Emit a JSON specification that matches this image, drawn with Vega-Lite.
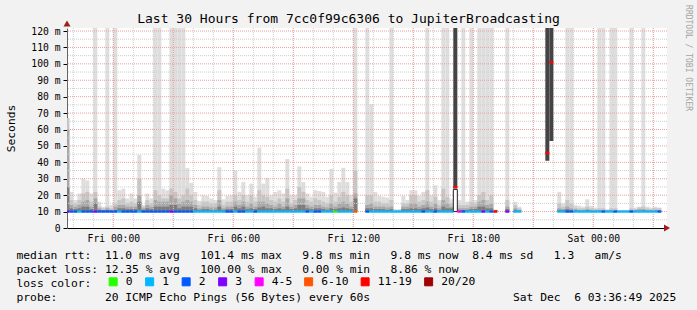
{
  "$schema": "https://vega.github.io/schema/vega-lite/v6.json",
  "width": 600,
  "height": 200,
  "autosize": {"type": "none"},
  "padding": {"left": 67, "top": 28, "right": 30, "bottom": 82},
  "background": "#f2f2f2",
  "title": {
    "text": "Last 30 Hours from 7cc0f99c6306 to JupiterBroadcasting",
    "font": "DejaVu Sans Mono",
    "fontSize": 13,
    "fontWeight": "normal",
    "color": "#000000",
    "anchor": "middle",
    "frame": "group",
    "dx": -18.5,
    "dy": 25,
    "offset": 4
  },
  "datasets": {
    "hours": [
      {"h": "2025-12-04T22:00"}, {"h": "2025-12-04T23:00"},
      {"h": "2025-12-05T00:00"}, {"h": "2025-12-05T01:00"}, {"h": "2025-12-05T02:00"}, {"h": "2025-12-05T03:00"},
      {"h": "2025-12-05T04:00"}, {"h": "2025-12-05T05:00"}, {"h": "2025-12-05T06:00"}, {"h": "2025-12-05T07:00"},
      {"h": "2025-12-05T08:00"}, {"h": "2025-12-05T09:00"}, {"h": "2025-12-05T10:00"}, {"h": "2025-12-05T11:00"},
      {"h": "2025-12-05T12:00"}, {"h": "2025-12-05T13:00"}, {"h": "2025-12-05T14:00"}, {"h": "2025-12-05T15:00"},
      {"h": "2025-12-05T16:00"}, {"h": "2025-12-05T17:00"}, {"h": "2025-12-05T18:00"}, {"h": "2025-12-05T19:00"},
      {"h": "2025-12-05T20:00"}, {"h": "2025-12-05T21:00"}, {"h": "2025-12-05T22:00"}, {"h": "2025-12-05T23:00"},
      {"h": "2025-12-06T00:00"}, {"h": "2025-12-06T01:00"}, {"h": "2025-12-06T02:00"}, {"h": "2025-12-06T03:00"}
    ],
    "hours3": [
      {"h": "2025-12-05T00:00"}, {"h": "2025-12-05T03:00"}, {"h": "2025-12-05T06:00"}, {"h": "2025-12-05T09:00"},
      {"h": "2025-12-05T12:00"}, {"h": "2025-12-05T15:00"}, {"h": "2025-12-05T18:00"}, {"h": "2025-12-05T21:00"},
      {"h": "2025-12-06T00:00"}, {"h": "2025-12-06T03:00"}
    ],
    "m5": [{"v": 5}, {"v": 15}, {"v": 25}, {"v": 35}, {"v": 45}, {"v": 55}, {"v": 65}, {"v": 75}, {"v": 85}, {"v": 95}, {"v": 105}, {"v": 115}],
    "m10": [{"v": 10}, {"v": 20}, {"v": 30}, {"v": 40}, {"v": 50}, {"v": 60}, {"v": 70}, {"v": 80}, {"v": 90}, {"v": 100}, {"v": 110}, {"v": 120}],
    "smoke": [
      {"t": "2025-12-04T21:36", "e": "2025-12-04T21:48", "l": "3", "md": 10, "mx": 67, "a": 67, "b": 60, "c": 25},
      {"t": "2025-12-04T21:48", "e": "2025-12-04T22:00", "l": "2", "md": 10, "mx": 22, "a": 17, "b": 14, "c": 12},
      {"t": "2025-12-04T22:00", "e": "2025-12-04T22:12", "l": "2", "md": 10, "mx": 17, "a": 15, "b": 13, "c": 11.5},
      {"t": "2025-12-04T22:12", "e": "2025-12-04T22:24", "l": "1", "md": 10, "mx": 21, "a": 17, "b": 14, "c": 12},
      {"t": "2025-12-04T22:24", "e": "2025-12-04T22:36", "l": "2", "md": 10, "mx": 30, "a": 21, "b": 16, "c": 13},
      {"t": "2025-12-04T22:36", "e": "2025-12-04T22:48", "l": "2", "md": 10, "mx": 29, "a": 22, "b": 17, "c": 13},
      {"t": "2025-12-04T22:48", "e": "2025-12-04T23:00", "l": "2", "md": 10, "mx": 21, "a": 16, "b": 13, "c": 11.5},
      {"t": "2025-12-04T23:00", "e": "2025-12-04T23:12", "l": "3", "md": 10, "mx": 125, "a": 22, "b": 18, "c": 15},
      {"t": "2025-12-04T23:12", "e": "2025-12-04T23:24", "l": "2", "md": 10, "mx": 16, "a": 13, "b": 12, "c": 11},
      {"t": "2025-12-04T23:24", "e": "2025-12-04T23:36", "l": "2", "md": 10, "mx": 13, "a": 12, "b": 11, "c": 10.8},
      {"t": "2025-12-04T23:36", "e": "2025-12-04T23:48", "l": "2", "md": 10, "mx": 125, "a": 13, "b": 12, "c": 11},
      {"t": "2025-12-04T23:48", "e": "2025-12-05T00:00", "l": "2", "md": 10, "mx": 14, "a": 12, "b": 11, "c": 10.8},
      {"t": "2025-12-05T00:00", "e": "2025-12-05T00:12", "l": "2", "md": 10, "mx": 125, "a": 15, "b": 13, "c": 11},
      {"t": "2025-12-05T00:12", "e": "2025-12-05T00:24", "l": "1", "md": 10, "mx": 23, "a": 17, "b": 14, "c": 12},
      {"t": "2025-12-05T00:24", "e": "2025-12-05T00:36", "l": "2", "md": 10, "mx": 24, "a": 18, "b": 14, "c": 12},
      {"t": "2025-12-05T00:36", "e": "2025-12-05T00:48", "l": "2", "md": 10, "mx": 18, "a": 15, "b": 13, "c": 11.5},
      {"t": "2025-12-05T00:48", "e": "2025-12-05T01:00", "l": "2", "md": 10, "mx": 21, "a": 16, "b": 13, "c": 11.5},
      {"t": "2025-12-05T01:00", "e": "2025-12-05T01:12", "l": "2", "md": 10, "mx": 18, "a": 15, "b": 13, "c": 11.5},
      {"t": "2025-12-05T01:12", "e": "2025-12-05T01:24", "l": "1", "md": 10, "mx": 44.5, "a": 30, "b": 20, "c": 16},
      {"t": "2025-12-05T01:24", "e": "2025-12-05T01:36", "l": "2", "md": 10, "mx": 14, "a": 13, "b": 12, "c": 11},
      {"t": "2025-12-05T01:36", "e": "2025-12-05T01:48", "l": "2", "md": 10, "mx": 21, "a": 17, "b": 14, "c": 12},
      {"t": "2025-12-05T01:48", "e": "2025-12-05T02:00", "l": "2", "md": 10, "mx": 18, "a": 15, "b": 13, "c": 11.5},
      {"t": "2025-12-05T02:00", "e": "2025-12-05T02:12", "l": "2", "md": 10, "mx": 125, "a": 23, "b": 17, "c": 13},
      {"t": "2025-12-05T02:12", "e": "2025-12-05T02:24", "l": "2", "md": 10, "mx": 125, "a": 20, "b": 16, "c": 13},
      {"t": "2025-12-05T02:24", "e": "2025-12-05T02:36", "l": "2", "md": 10, "mx": 24, "a": 18, "b": 16, "c": 13},
      {"t": "2025-12-05T02:36", "e": "2025-12-05T02:48", "l": "2", "md": 10, "mx": 23, "a": 18, "b": 16, "c": 13},
      {"t": "2025-12-05T02:48", "e": "2025-12-05T03:00", "l": "3", "md": 10, "mx": 125, "a": 24, "b": 20, "c": 14},
      {"t": "2025-12-05T03:00", "e": "2025-12-05T03:12", "l": "2", "md": 10, "mx": 125, "a": 22, "b": 18, "c": 14},
      {"t": "2025-12-05T03:12", "e": "2025-12-05T03:24", "l": "2", "md": 10, "mx": 125, "a": 18, "b": 15, "c": 12},
      {"t": "2025-12-05T03:24", "e": "2025-12-05T03:36", "l": "2", "md": 10, "mx": 125, "a": 20, "b": 16, "c": 13},
      {"t": "2025-12-05T03:36", "e": "2025-12-05T03:48", "l": "2", "md": 10, "mx": 36.5, "a": 24, "b": 17, "c": 13},
      {"t": "2025-12-05T03:48", "e": "2025-12-05T04:00", "l": "2", "md": 10, "mx": 27.5, "a": 20, "b": 16, "c": 13},
      {"t": "2025-12-05T04:00", "e": "2025-12-05T04:12", "l": "1", "md": 10, "mx": 22, "a": 17, "b": 14, "c": 12},
      {"t": "2025-12-05T04:12", "e": "2025-12-05T04:24", "l": "1", "md": 10, "mx": 16.5, "a": 14, "b": 12, "c": 11},
      {"t": "2025-12-05T04:24", "e": "2025-12-05T04:36", "l": "1", "md": 10, "mx": 20, "a": 16, "b": 13, "c": 11.5},
      {"t": "2025-12-05T04:36", "e": "2025-12-05T04:48", "l": "1", "md": 10, "mx": 19.5, "a": 16, "b": 13, "c": 11.5},
      {"t": "2025-12-05T04:48", "e": "2025-12-05T05:00", "l": "1", "md": 10, "mx": 18, "a": 15, "b": 12.5, "c": 11},
      {"t": "2025-12-05T05:00", "e": "2025-12-05T05:12", "l": "1", "md": 10, "mx": 17, "a": 15, "b": 12.5, "c": 11},
      {"t": "2025-12-05T05:12", "e": "2025-12-05T05:24", "l": "1", "md": 10, "mx": 37, "a": 23, "b": 17, "c": 13},
      {"t": "2025-12-05T05:24", "e": "2025-12-05T05:36", "l": "1", "md": 10, "mx": 17.4, "a": 14, "b": 12, "c": 11},
      {"t": "2025-12-05T05:36", "e": "2025-12-05T05:48", "l": "2", "md": 10, "mx": 19.5, "a": 16, "b": 13, "c": 11.5},
      {"t": "2025-12-05T05:48", "e": "2025-12-05T06:00", "l": "2", "md": 10, "mx": 20, "a": 16, "b": 13, "c": 11.5},
      {"t": "2025-12-05T06:00", "e": "2025-12-05T06:12", "l": "1", "md": 10, "mx": 35, "a": 20, "b": 16, "c": 13},
      {"t": "2025-12-05T06:12", "e": "2025-12-05T06:24", "l": "2", "md": 10, "mx": 22, "a": 17, "b": 14, "c": 12},
      {"t": "2025-12-05T06:24", "e": "2025-12-05T06:36", "l": "2", "md": 10, "mx": 28, "a": 20, "b": 16, "c": 13},
      {"t": "2025-12-05T06:36", "e": "2025-12-05T06:48", "l": "1", "md": 10, "mx": 20, "a": 16, "b": 13, "c": 11.5},
      {"t": "2025-12-05T06:48", "e": "2025-12-05T07:00", "l": "1", "md": 10, "mx": 27, "a": 20, "b": 15, "c": 12},
      {"t": "2025-12-05T07:00", "e": "2025-12-05T07:12", "l": "2", "md": 10, "mx": 19, "a": 16, "b": 13, "c": 11.5},
      {"t": "2025-12-05T07:12", "e": "2025-12-05T07:24", "l": "1", "md": 10, "mx": 49, "a": 23, "b": 16, "c": 12.5},
      {"t": "2025-12-05T07:24", "e": "2025-12-05T07:36", "l": "1", "md": 10, "mx": 27, "a": 20, "b": 16, "c": 13},
      {"t": "2025-12-05T07:36", "e": "2025-12-05T07:48", "l": "1", "md": 10, "mx": 30.5, "a": 19, "b": 15, "c": 12},
      {"t": "2025-12-05T07:48", "e": "2025-12-05T08:00", "l": "1", "md": 10, "mx": 20, "a": 17, "b": 14, "c": 12},
      {"t": "2025-12-05T08:00", "e": "2025-12-05T08:12", "l": "1", "md": 10, "mx": 22, "a": 16, "b": 13, "c": 11.5},
      {"t": "2025-12-05T08:12", "e": "2025-12-05T08:24", "l": "1", "md": 10, "mx": 23, "a": 18, "b": 15, "c": 12},
      {"t": "2025-12-05T08:24", "e": "2025-12-05T08:36", "l": "1", "md": 10, "mx": 21, "a": 16, "b": 13, "c": 11.5},
      {"t": "2025-12-05T08:36", "e": "2025-12-05T08:48", "l": "1", "md": 10, "mx": 42, "a": 24, "b": 18, "c": 13},
      {"t": "2025-12-05T08:48", "e": "2025-12-05T09:00", "l": "1", "md": 10, "mx": 20, "a": 15, "b": 13, "c": 11.5},
      {"t": "2025-12-05T09:00", "e": "2025-12-05T09:12", "l": "1", "md": 10, "mx": 20, "a": 17, "b": 14, "c": 12},
      {"t": "2025-12-05T09:12", "e": "2025-12-05T09:24", "l": "1", "md": 10, "mx": 37.5, "a": 25, "b": 18, "c": 14},
      {"t": "2025-12-05T09:24", "e": "2025-12-05T09:36", "l": "1", "md": 10, "mx": 28, "a": 22, "b": 18, "c": 14},
      {"t": "2025-12-05T09:36", "e": "2025-12-05T09:48", "l": "2", "md": 10, "mx": 21, "a": 17, "b": 14, "c": 12},
      {"t": "2025-12-05T09:48", "e": "2025-12-05T10:00", "l": "1", "md": 10, "mx": 19, "a": 16, "b": 13, "c": 11.5},
      {"t": "2025-12-05T10:00", "e": "2025-12-05T10:12", "l": "2", "md": 10, "mx": 23, "a": 18, "b": 14, "c": 12},
      {"t": "2025-12-05T10:12", "e": "2025-12-05T10:24", "l": "2", "md": 10, "mx": 22.5, "a": 17, "b": 14, "c": 12},
      {"t": "2025-12-05T10:24", "e": "2025-12-05T10:36", "l": "1", "md": 10, "mx": 22, "a": 16, "b": 13, "c": 11.5},
      {"t": "2025-12-05T10:36", "e": "2025-12-05T10:48", "l": "1", "md": 10, "mx": 19, "a": 15, "b": 12.5, "c": 11},
      {"t": "2025-12-05T10:48", "e": "2025-12-05T11:00", "l": "1", "md": 10, "mx": 36, "a": 20, "b": 15, "c": 12},
      {"t": "2025-12-05T11:00", "e": "2025-12-05T11:12", "l": "0", "md": 10, "mx": 21.5, "a": 16, "b": 13, "c": 11.5},
      {"t": "2025-12-05T11:12", "e": "2025-12-05T11:24", "l": "1", "md": 10, "mx": 28, "a": 19, "b": 15, "c": 12},
      {"t": "2025-12-05T11:24", "e": "2025-12-05T11:36", "l": "1", "md": 10, "mx": 36.7, "a": 22, "b": 16, "c": 12.5},
      {"t": "2025-12-05T11:36", "e": "2025-12-05T11:48", "l": "1", "md": 10, "mx": 28, "a": 20, "b": 15, "c": 12},
      {"t": "2025-12-05T11:48", "e": "2025-12-05T12:00", "l": "1", "md": 10, "mx": 20, "a": 16, "b": 13, "c": 11.5},
      {"t": "2025-12-05T12:00", "e": "2025-12-05T12:12", "l": "6-10", "md": 10, "mx": 125, "a": 35, "b": 21, "c": 18},
      {"t": "2025-12-05T12:36", "e": "2025-12-05T12:48", "l": "2", "md": 10, "mx": 125, "a": 20, "b": 14, "c": 12},
      {"t": "2025-12-05T12:48", "e": "2025-12-05T13:00", "l": "1", "md": 10, "mx": 75.5, "a": 20, "b": 15, "c": 12},
      {"t": "2025-12-05T13:00", "e": "2025-12-05T13:12", "l": "1", "md": 10, "mx": 22, "a": 16, "b": 13, "c": 11.5},
      {"t": "2025-12-05T13:12", "e": "2025-12-05T13:24", "l": "1", "md": 10, "mx": 19.5, "a": 16, "b": 13, "c": 11.5},
      {"t": "2025-12-05T13:24", "e": "2025-12-05T13:36", "l": "1", "md": 10, "mx": 19, "a": 15, "b": 13, "c": 11.5},
      {"t": "2025-12-05T13:36", "e": "2025-12-05T13:48", "l": "1", "md": 10, "mx": 18.5, "a": 15, "b": 12.5, "c": 11},
      {"t": "2025-12-05T13:48", "e": "2025-12-05T14:00", "l": "1", "md": 10, "mx": 125, "a": 17, "b": 13, "c": 11.5},
      {"t": "2025-12-05T14:00", "e": "2025-12-05T14:12", "l": "1", "md": 10, "mx": 11.5, "a": 11, "b": 10.6, "c": 10.3},
      {"t": "2025-12-05T14:12", "e": "2025-12-05T14:24", "l": "1", "md": 10, "mx": 11.5, "a": 11, "b": 10.6, "c": 10.3},
      {"t": "2025-12-05T14:24", "e": "2025-12-05T14:36", "l": "1", "md": 10, "mx": 19.6, "a": 15, "b": 13, "c": 11.5},
      {"t": "2025-12-05T14:36", "e": "2025-12-05T14:48", "l": "1", "md": 10, "mx": 17, "a": 15, "b": 13, "c": 11.5},
      {"t": "2025-12-05T14:48", "e": "2025-12-05T15:00", "l": "1", "md": 10, "mx": 23, "a": 20, "b": 15, "c": 12},
      {"t": "2025-12-05T15:00", "e": "2025-12-05T15:12", "l": "1", "md": 10, "mx": 23, "a": 20, "b": 15, "c": 12},
      {"t": "2025-12-05T15:12", "e": "2025-12-05T15:24", "l": "1", "md": 10, "mx": 19.6, "a": 16, "b": 13, "c": 11.5},
      {"t": "2025-12-05T15:24", "e": "2025-12-05T15:36", "l": "2", "md": 10, "mx": 22, "a": 17, "b": 14, "c": 12},
      {"t": "2025-12-05T15:36", "e": "2025-12-05T15:48", "l": "1", "md": 10, "mx": 125, "a": 23, "b": 16, "c": 12.5},
      {"t": "2025-12-05T15:48", "e": "2025-12-05T16:00", "l": "1", "md": 10, "mx": 20, "a": 16, "b": 13, "c": 11.5},
      {"t": "2025-12-05T16:00", "e": "2025-12-05T16:12", "l": "2", "md": 10, "mx": 26, "a": 19, "b": 15, "c": 12},
      {"t": "2025-12-05T16:12", "e": "2025-12-05T16:24", "l": "1", "md": 10, "mx": 17, "a": 14, "b": 12, "c": 11},
      {"t": "2025-12-05T16:24", "e": "2025-12-05T16:36", "l": "1", "md": 10, "mx": 125, "a": 24, "b": 17, "c": 13},
      {"t": "2025-12-05T16:36", "e": "2025-12-05T16:48", "l": "1", "md": 10, "mx": 125, "a": 19, "b": 15, "c": 12},
      {"t": "2025-12-05T16:48", "e": "2025-12-05T17:00", "l": "1", "md": 10, "mx": 17.5, "a": 15, "b": 13, "c": 12},
      {"t": "2025-12-05T17:00", "e": "2025-12-05T17:12", "l": "11-19", "md": 25, "dl": 24, "ol": 10, "oh": 23.5},
      {"t": "2025-12-05T17:12", "e": "2025-12-05T17:24", "l": "4-5", "md": 10, "mx": 17, "a": 14, "b": 12, "c": 11},
      {"t": "2025-12-05T17:24", "e": "2025-12-05T17:36", "l": "2", "md": 10, "mx": 125, "a": 14, "b": 12, "c": 11},
      {"t": "2025-12-05T17:36", "e": "2025-12-05T17:48", "l": "1", "md": 10, "mx": 16, "a": 14, "b": 12, "c": 11},
      {"t": "2025-12-05T17:48", "e": "2025-12-05T18:00", "l": "1", "md": 10, "mx": 125, "a": 16, "b": 13, "c": 11.5},
      {"t": "2025-12-05T18:00", "e": "2025-12-05T18:12", "l": "1", "md": 10, "mx": 17, "a": 15, "b": 13, "c": 11.5},
      {"t": "2025-12-05T18:12", "e": "2025-12-05T18:24", "l": "1", "md": 10, "mx": 125, "a": 20, "b": 16, "c": 13},
      {"t": "2025-12-05T18:24", "e": "2025-12-05T18:36", "l": "3", "md": 10, "mx": 125, "a": 22, "b": 17, "c": 13},
      {"t": "2025-12-05T18:36", "e": "2025-12-05T18:48", "l": "1", "md": 10, "mx": 125, "a": 17, "b": 14, "c": 12},
      {"t": "2025-12-05T18:48", "e": "2025-12-05T19:00", "l": "2", "md": 10, "mx": 125, "a": 20, "b": 15, "c": 12},
      {"t": "2025-12-05T19:00", "e": "2025-12-05T19:12", "l": "11-19", "md": 10, "mx": 11, "a": 11, "b": 11, "c": 11},
      {"t": "2025-12-05T19:36", "e": "2025-12-05T19:48", "l": "3", "md": 10, "mx": 125, "a": 17, "b": 13, "c": 11.5},
      {"t": "2025-12-05T20:00", "e": "2025-12-05T20:12", "l": "1", "md": 10, "mx": 16, "a": 14, "b": 12, "c": 11},
      {"t": "2025-12-05T20:12", "e": "2025-12-05T20:24", "l": "1", "md": 10, "mx": 13, "a": 12, "b": 11, "c": 10.5},
      {"t": "2025-12-05T21:36", "e": "2025-12-05T21:48", "l": "11-19", "md": 45.7, "dl": 41},
      {"t": "2025-12-05T21:48", "e": "2025-12-05T22:00", "l": "11-19", "md": 101, "dl": 53},
      {"t": "2025-12-05T22:12", "e": "2025-12-05T22:24", "l": "1", "md": 10, "mx": 22, "a": 15, "b": 12, "c": 11},
      {"t": "2025-12-05T22:24", "e": "2025-12-05T22:36", "l": "1", "md": 10, "mx": 15, "a": 13, "b": 11.5, "c": 11},
      {"t": "2025-12-05T22:36", "e": "2025-12-05T22:48", "l": "2", "md": 10, "mx": 125, "a": 17, "b": 13, "c": 11.5},
      {"t": "2025-12-05T22:48", "e": "2025-12-05T23:00", "l": "2", "md": 10, "mx": 125, "a": 15, "b": 12, "c": 11},
      {"t": "2025-12-05T23:00", "e": "2025-12-05T23:12", "l": "1", "md": 10, "mx": 14, "a": 12.5, "b": 11.5, "c": 10.8},
      {"t": "2025-12-05T23:12", "e": "2025-12-05T23:24", "l": "1", "md": 10, "mx": 13.5, "a": 12, "b": 11, "c": 10.5},
      {"t": "2025-12-05T23:24", "e": "2025-12-05T23:36", "l": "1", "md": 10, "mx": 13, "a": 12, "b": 11, "c": 10.5},
      {"t": "2025-12-05T23:36", "e": "2025-12-05T23:48", "l": "1", "md": 10, "mx": 17.5, "a": 13, "b": 11.5, "c": 10.8},
      {"t": "2025-12-05T23:48", "e": "2025-12-06T00:00", "l": "1", "md": 10, "mx": 13.5, "a": 12, "b": 11, "c": 10.5},
      {"t": "2025-12-06T00:00", "e": "2025-12-06T00:12", "l": "1", "md": 10, "mx": 12.5, "a": 11.5, "b": 11, "c": 10.5},
      {"t": "2025-12-06T00:12", "e": "2025-12-06T00:24", "l": "1", "md": 10, "mx": 125, "a": 12, "b": 11, "c": 10.5},
      {"t": "2025-12-06T00:24", "e": "2025-12-06T00:36", "l": "2", "md": 10, "mx": 125, "a": 12, "b": 11, "c": 10.5},
      {"t": "2025-12-06T00:36", "e": "2025-12-06T00:48", "l": "1", "md": 10, "mx": 11.5, "a": 11, "b": 10.7, "c": 10.4},
      {"t": "2025-12-06T00:48", "e": "2025-12-06T01:00", "l": "1", "md": 10, "mx": 125, "a": 12, "b": 11, "c": 10.5},
      {"t": "2025-12-06T01:00", "e": "2025-12-06T01:12", "l": "2", "md": 10, "mx": 125, "a": 12, "b": 11, "c": 10.5},
      {"t": "2025-12-06T01:12", "e": "2025-12-06T01:24", "l": "1", "md": 10, "mx": 11, "a": 10.8, "b": 10.5, "c": 10.3},
      {"t": "2025-12-06T01:24", "e": "2025-12-06T01:36", "l": "1", "md": 10, "mx": 11, "a": 10.8, "b": 10.5, "c": 10.3},
      {"t": "2025-12-06T01:36", "e": "2025-12-06T01:48", "l": "1", "md": 10, "mx": 11, "a": 10.8, "b": 10.5, "c": 10.3},
      {"t": "2025-12-06T01:48", "e": "2025-12-06T02:00", "l": "2", "md": 10, "mx": 125, "a": 12, "b": 11, "c": 10.5},
      {"t": "2025-12-06T02:00", "e": "2025-12-06T02:12", "l": "1", "md": 10, "mx": 12.5, "a": 11.5, "b": 11, "c": 10.5},
      {"t": "2025-12-06T02:12", "e": "2025-12-06T02:24", "l": "1", "md": 10, "mx": 13, "a": 12.5, "b": 11.5, "c": 10.5},
      {"t": "2025-12-06T02:24", "e": "2025-12-06T02:36", "l": "1", "md": 10, "mx": 125, "a": 13, "b": 11.5, "c": 10.8},
      {"t": "2025-12-06T02:36", "e": "2025-12-06T02:48", "l": "1", "md": 10, "mx": 13, "a": 12, "b": 11, "c": 10.5},
      {"t": "2025-12-06T02:48", "e": "2025-12-06T03:00", "l": "1", "md": 10, "mx": 12.5, "a": 11.5, "b": 11, "c": 10.5},
      {"t": "2025-12-06T03:00", "e": "2025-12-06T03:12", "l": "1", "md": 10, "mx": 13, "a": 12, "b": 11, "c": 10.5},
      {"t": "2025-12-06T03:12", "e": "2025-12-06T03:24", "l": "2", "md": 10, "mx": 12.5, "a": 12, "b": 11, "c": 10.5}
    ]
  },
  "layer": [
    {
      "data": {"name": "smoke"},
      "mark": {"type": "bar", "color": "#dedede", "clip": true},
      "encoding": {
        "x": {"field": "t", "type": "temporal",
          "scale": {"domain": [{"year": 2025, "month": 12, "date": 4, "hours": 21, "minutes": 41}, {"year": 2025, "month": 12, "date": 6, "hours": 3, "minutes": 41}], "nice": false},
          "axis": {"orient": "bottom", "grid": false, "ticks": false, "domain": true, "domainColor": "#000000", "format": "%a %H:%M",
            "values": [{"year": 2025, "month": 12, "date": 5, "hours": 0}, {"year": 2025, "month": 12, "date": 5, "hours": 6}, {"year": 2025, "month": 12, "date": 5, "hours": 12}, {"year": 2025, "month": 12, "date": 5, "hours": 18}, {"year": 2025, "month": 12, "date": 6, "hours": 0}],
            "labelPadding": 5, "labelFontSize": 9.7, "labelFlush": false, "labelOverlap": false,
            "title": ["median rtt:\u00a0\u00a011.0 ms avg\u00a0\u00a0\u00a0101.4 ms max\u00a0\u00a0\u00a09.8 ms min\u00a0\u00a0\u00a09.8 ms now\u00a0\u00a08.4 ms sd\u00a0\u00a0\u00a01.3\u00a0\u00a0\u00a0am/s", "packet loss: 12.35 % avg\u00a0\u00a0\u00a0100.00 % max\u00a0\u00a0\u00a00.00 % min\u00a0\u00a0\u00a08.86 % now", "loss color:", "probe:\u00a0\u00a0\u00a0\u00a0\u00a0\u00a0\u00a020 ICMP Echo Pings (56 Bytes) every 60s\u00a0\u00a0\u00a0\u00a0\u00a0\u00a0\u00a0\u00a0\u00a0\u00a0\u00a0\u00a0\u00a0\u00a0\u00a0\u00a0\u00a0\u00a0\u00a0\u00a0\u00a0Sat Dec\u00a0\u00a06 03:36:49 2025"],
            "titleX": -51, "titleY": 30.5, "titleAlign": "left", "titleAnchor": "start", "titleBaseline": "alphabetic", "titleFontSize": 11.3, "titleLineHeight": 14}},
        "x2": {"field": "e"},
        "y": {"field": "mx", "type": "quantitative", "scale": {"domain": [0, 121.83], "nice": false, "zero": true},
          "axis": {"orient": "left", "grid": false, "tickCount": 13, "values": [0, 10, 20, 30, 40, 50, 60, 70, 80, 90, 100, 110, 120], "labelExpr": "datum.value == 0 ? '0' : datum.value + ' m'", "labelFontSize": 9.7, "labelOverlap": false, "labelFlush": false, "labelBound": false, "ticks": true, "tickSize": 4, "tickColor": "#000000", "labelPadding": 3, "domain": true, "domainColor": "#666666",
            "title": "Seconds", "titleX": -56, "titleY": 100, "titleAngle": -90, "titleAlign": "center", "titleBaseline": "middle", "titleFontSize": 11.3}},
        "y2": {"field": "md"}
      }
    },
    {
      "data": {"name": "smoke"},
      "mark": {"type": "bar", "color": "#c6c6c6", "clip": true},
      "encoding": {
        "x": {"field": "t", "type": "temporal"},
        "x2": {"field": "e"},
        "y": {"field": "a", "type": "quantitative"},
        "y2": {"field": "md"}
      }
    },
    {
      "data": {"name": "smoke"},
      "mark": {"type": "bar", "color": "#a8a8a8", "clip": true},
      "encoding": {
        "x": {"field": "t", "type": "temporal"},
        "x2": {"field": "e"},
        "y": {"field": "b", "type": "quantitative"},
        "y2": {"field": "md"}
      }
    },
    {
      "data": {"name": "smoke"},
      "mark": {"type": "bar", "color": "#7c7c7c", "clip": true},
      "encoding": {
        "x": {"field": "t", "type": "temporal"},
        "x2": {"field": "e"},
        "y": {"field": "c", "type": "quantitative"},
        "y2": {"field": "md"}
      }
    },
    {
      "data": {"name": "hours"},
      "mark": {"type": "rule", "color": "#cdcdcd", "strokeDash": [1, 1], "strokeWidth": 1},
      "encoding": {"x": {"field": "h", "type": "temporal"}}
    },
    {
      "data": {"name": "m5"},
      "mark": {"type": "rule", "color": "#cdcdcd", "strokeDash": [1, 1], "strokeWidth": 1},
      "encoding": {"y": {"field": "v", "type": "quantitative"}}
    },
    {
      "data": {"name": "hours3"},
      "mark": {"type": "rule", "color": "#e8a0a0", "strokeDash": [1, 1], "strokeWidth": 1},
      "encoding": {"x": {"field": "h", "type": "temporal"}}
    },
    {
      "data": {"name": "m10"},
      "mark": {"type": "rule", "color": "#e8a0a0", "strokeDash": [1, 1], "strokeWidth": 1},
      "encoding": {"y": {"field": "v", "type": "quantitative"}}
    },
    {
      "data": {"name": "smoke"},
      "mark": {"type": "bar", "color": "#444444", "clip": true},
      "encoding": {
        "x": {"field": "t", "type": "temporal"},
        "x2": {"field": "e"},
        "y": {"field": "dl", "type": "quantitative"},
        "y2": {"datum": 125}
      }
    },
    {
      "data": {"name": "smoke"},
      "mark": {"type": "bar", "fill": "#ffffff", "stroke": "#222222", "strokeWidth": 1, "clip": true},
      "encoding": {
        "x": {"field": "t", "type": "temporal"},
        "x2": {"field": "e"},
        "y": {"field": "ol", "type": "quantitative"},
        "y2": {"field": "oh"}
      }
    },
    {
      "data": {"name": "smoke"},
      "mark": {"type": "bar", "clip": true, "strokeWidth": 2.4},
      "encoding": {
        "x": {"field": "t", "type": "temporal"},
        "x2": {"field": "e"},
        "y": {"field": "md", "type": "quantitative"},
        "y2": {"field": "md"},
        "color": {"field": "l", "type": "nominal",
          "scale": {"domain": ["0", "1", "2", "3", "4-5", "6-10", "11-19", "20/20"], "range": ["#26ff00", "#00b8ff", "#0059ff", "#7e00ff", "#ff00ff", "#ff5500", "#ff0000", "#a10000"]},
          "legend": {"orient": "none", "legendX": 40.5, "legendY": 248, "direction": "horizontal", "title": null, "symbolType": "square", "symbolSize": 64, "symbolStrokeColor": "#000000", "symbolStrokeWidth": 1, "symbolOpacity": 1, "labelFont": "DejaVu Sans Mono", "labelFontSize": 11.3, "labelColor": "#000000", "labelOffset": 7, "columnPadding": 9.5, "padding": 0}},
        "stroke": {"field": "l", "type": "nominal",
          "scale": {"domain": ["0", "1", "2", "3", "4-5", "6-10", "11-19", "20/20"], "range": ["#26ff00", "#00b8ff", "#0059ff", "#7e00ff", "#ff00ff", "#ff5500", "#ff0000", "#a10000"]},
          "legend": null}
      }
    },
    {
      "data": {"values": [{}]},
      "mark": {"type": "point", "shape": "triangle-right", "filled": true, "size": 49, "color": "#9e1c1c", "opacity": 1},
      "encoding": {
        "x": {"datum": {"year": 2025, "month": 12, "date": 6, "hours": 3, "minutes": 41}, "type": "temporal"},
        "y": {"datum": 0, "type": "quantitative"}
      }
    },
    {
      "data": {"values": [{}]},
      "mark": {"type": "point", "shape": "triangle-up", "filled": true, "size": 49, "color": "#9e1c1c", "opacity": 1},
      "encoding": {
        "x": {"datum": {"year": 2025, "month": 12, "date": 4, "hours": 21, "minutes": 41}, "type": "temporal"},
        "y": {"datum": 124.6, "type": "quantitative"}
      }
    },
    {
      "data": {"values": [{"w": "RRDTOOL / TOBI OETIKER"}]},
      "mark": {"type": "text", "angle": 90, "align": "left", "baseline": "middle", "font": "DejaVu Sans Mono", "fontSize": 8, "color": "#a4a4a4"},
      "encoding": {
        "x": {"datum": {"year": 2025, "month": 12, "date": 6, "hours": 4, "minutes": 44}, "type": "temporal"},
        "y": {"datum": 135.8, "type": "quantitative"},
        "text": {"field": "w"}
      }
    }
  ],
  "config": {
    "view": {"fill": "#ffffff", "stroke": null},
    "font": "DejaVu Sans Mono",
    "axis": {"labelFont": "DejaVu Sans Mono", "labelColor": "#000000", "titleFont": "DejaVu Sans Mono", "titleFontWeight": "normal", "titleColor": "#000000"},
    "axisY": {"tickCount": 13, "labelOverlap": false}
  }
}
